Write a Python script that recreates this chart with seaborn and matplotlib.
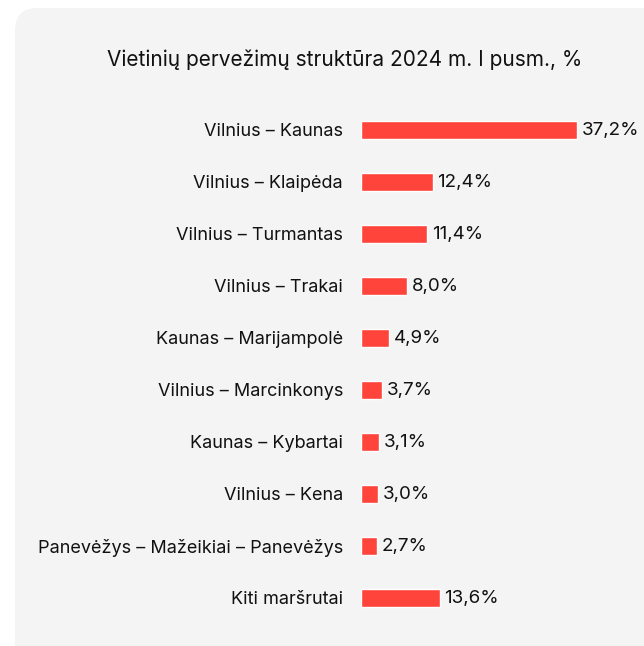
import pandas as pd
import matplotlib.pyplot as plt
import seaborn as sns
from matplotlib.patches import FancyBboxPatch

sns.set_theme(style="white")
plt.rcParams['font.family'] = ['Inter', 'DejaVu Sans']

# data
routes = ["Vilnius – Kaunas", "Vilnius – Klaipėda", "Vilnius – Turmantas",
          "Vilnius – Trakai", "Kaunas – Marijampolė", "Vilnius – Marcinkonys",
          "Kaunas – Kybartai", "Vilnius – Kena",
          "Panevėžys – Mažeikiai – Panevėžys", "Kiti maršrutai"]
shares = [37.2, 12.4, 11.4, 8.0, 4.9, 3.7, 3.1, 3.0, 2.7, 13.6]
title = "Vietinių pervežimų struktūra 2024 m. I pusm., %"

df = pd.DataFrame({"route": routes, "share": shares})

W, H = 644, 646
fig = plt.figure(figsize=(W / 100, H / 100), dpi=100)
fig.patch.set_facecolor("white")

# grey rounded card behind the chart
card = FancyBboxPatch((15 / W, -0.1), 1.2, (H - 8) / H + 0.1,
                      boxstyle="round,pad=0,rounding_size=0.035",
                      transform=fig.transFigure, facecolor="#f4f4f4",
                      edgecolor="none", zorder=-5)
fig.patches.append(card)

ax = fig.add_axes([361 / W, 1 - 624 / H, 232 / W, 520 / H])
ax.set_facecolor("none")
ax.set_zorder(2)
sns.barplot(data=df, y="route", x="share", orient="h", color="#ff443b",
            width=0.35, saturation=1, ax=ax)
ax.set_xlim(0, 40)
ax.set_ylim(9.5, -0.5)

for i, v in enumerate(shares):
    ax.text(v + 0.8, i, f"{v:.1f}%".replace(".", ","), va="center", ha="left",
            fontsize=13.5, color="#111111")

ax.set_xlabel("")
ax.set_ylabel("")
ax.set_xticks([])
ax.tick_params(axis="y", length=0, pad=13, labelsize=13, labelcolor="#111111")
sns.despine(ax=ax, left=True, bottom=True)

fig.text(345 / W, 1 - 60 / H, title, ha="center", va="center",
         fontsize=15, color="#111111", zorder=3)

fig.savefig("out.png", dpi=100)
